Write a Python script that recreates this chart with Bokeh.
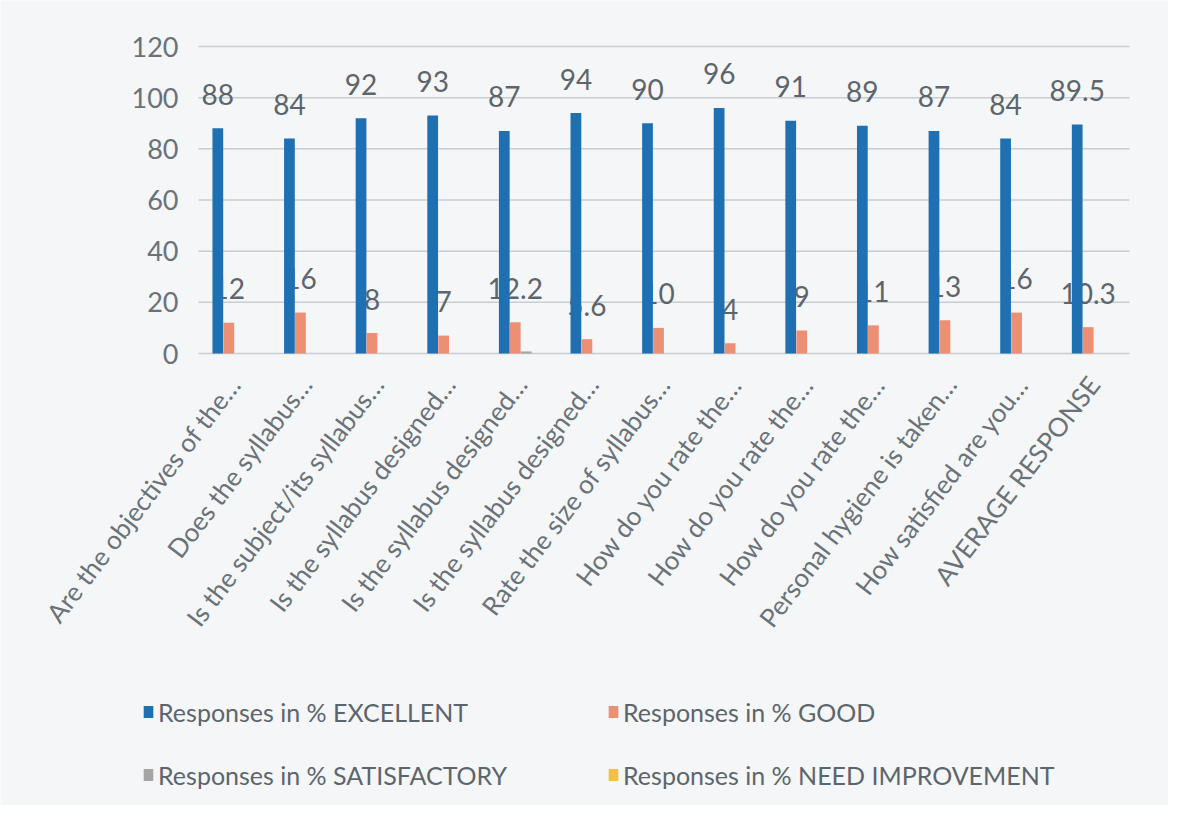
import numpy as np
from bokeh.plotting import figure
from bokeh.models import ColumnDataSource, FixedTicker, Legend, LegendItem
from bokeh.core.properties import value
from bokeh.embed import file_html
from bokeh.resources import INLINE

categories = [
    "Are the objectives of the…",
    "Does the syllabus…",
    "Is the subject/its syllabus…",
    "Is the syllabus designed…",
    "Is the syllabus designed…",
    "Is the syllabus designed…",
    "Rate the size of syllabus…",
    "How do you rate the…",
    "How do you rate the…",
    "How do you rate the…",
    "Personal hygiene is taken…",
    "How satisfied are you…",
    "AVERAGE RESPONSE",
]
excellent = [88, 84, 92, 93, 87, 94, 90, 96, 91, 89, 87, 84, 89.5]
good = [12, 16, 8, 7, 12.2, 5.6, 10, 4, 9, 11, 13, 16, 10.3]
satisfactory = [0, 0, 0, 0, 0.8, 0, 0, 0, 0, 0, 0, 0, 0]
need_improvement = [0, 0, 0, 0, 0, 0, 0, 0, 0, 0, 0, 0, 0]
series_names = [
    "Responses in % EXCELLENT",
    "Responses in % GOOD",
    "Responses in % SATISFACTORY",
    "Responses in % NEED IMPROVEMENT",
]
y_ticks = [0, 20, 40, 60, 80, 100, 120]

colors = ["#1f70b2", "#ec8f72", "#a5a5a5", "#f3bf45"]
BG = "#f4f6f8"
FONT = "Lato"

W, H = 1168, 805
# plot-area placement in pixels (Excel-like inner plot area)
PL, PR, PT, PB = 198, 1129, 46, 353
n = len(categories)
xu = n / (PR - PL)
yu = 120 / (PB - PT)
x_range = (-0.5 - PL * xu, n - 0.5 + (W - PR) * xu)
y_range = (-(H - PB) * yu, 120 + PT * yu)

idx = np.arange(n)
d = 0.1535
bw = 0.15

p = figure(width=W, height=H, output_backend="svg", toolbar_location=None,
           x_range=x_range, y_range=y_range,
           min_border=0)
p.background_fill_color = BG
p.border_fill_color = BG
p.outline_line_color = None
p.xgrid.grid_line_color = None
p.ygrid.grid_line_color = None

# horizontal gridlines across the category span
p.segment(x0=-0.5, x1=n - 0.5, y0=y_ticks, y1=y_ticks,
          line_color="#c8cdd2", line_width=1.5)

series = [excellent, good, satisfactory, need_improvement]
offsets = [-1.5 * d, -0.5 * d, 0.5 * d, 1.5 * d]

# labels first (bars drawn over them as in the reference)
for k in (0, 1):
    src = ColumnDataSource(dict(x=idx + offsets[k], y=series[k],
                                t=[f"{v:g}" for v in series[k]]))
    p.text(x="x", y="y", text="t", source=src, text_align="center",
           text_baseline="middle", y_offset=-34, text_font=value(FONT),
           text_font_size="28px", text_color="#5d656c")

renderers = []
for k in range(4):
    src = ColumnDataSource(dict(x=idx + offsets[k], top=series[k]))
    r = p.vbar(x="x", top="top", width=bw, bottom=0, source=src,
               fill_color=colors[k], line_color=None)
    renderers.append(r)

p.xaxis.fixed_location = 0
p.xaxis.ticker = FixedTicker(ticks=list(idx))
p.xaxis.major_label_overrides = {int(i): c for i, c in zip(idx, categories)}
p.xaxis.major_label_orientation = 0.92
p.xaxis.major_label_text_font = FONT
p.xaxis.major_label_text_font_size = "26px"
p.xaxis.major_label_text_color = "#6a7278"
p.xaxis.major_label_standoff = 20
p.xaxis.axis_line_color = None
p.xaxis.major_tick_line_color = None
p.xaxis.minor_tick_line_color = None

p.yaxis.fixed_location = -0.5
p.yaxis.ticker = FixedTicker(ticks=y_ticks)
p.yaxis.major_label_text_font = FONT
p.yaxis.major_label_text_font_size = "27px"
p.yaxis.major_label_text_color = "#6a7278"
p.yaxis.major_label_standoff = 14
p.yaxis.axis_line_color = None
p.yaxis.major_tick_line_color = None
p.yaxis.minor_tick_line_color = None

legend = Legend(items=[LegendItem(label=nm, renderers=[r]) for nm, r in zip(series_names, renderers)],
                location=(142, 14), orientation="horizontal", ncols=2,
                glyph_width=12, glyph_height=15, label_standoff=4,
                label_width=419, label_height=33, spacing=30,
                label_text_font=FONT, label_text_font_size="25px",
                label_text_color="#5d656c", background_fill_alpha=0,
                border_line_color=None)
p.add_layout(legend, "center")

open("out.html", "w").write(file_html(p, INLINE))
